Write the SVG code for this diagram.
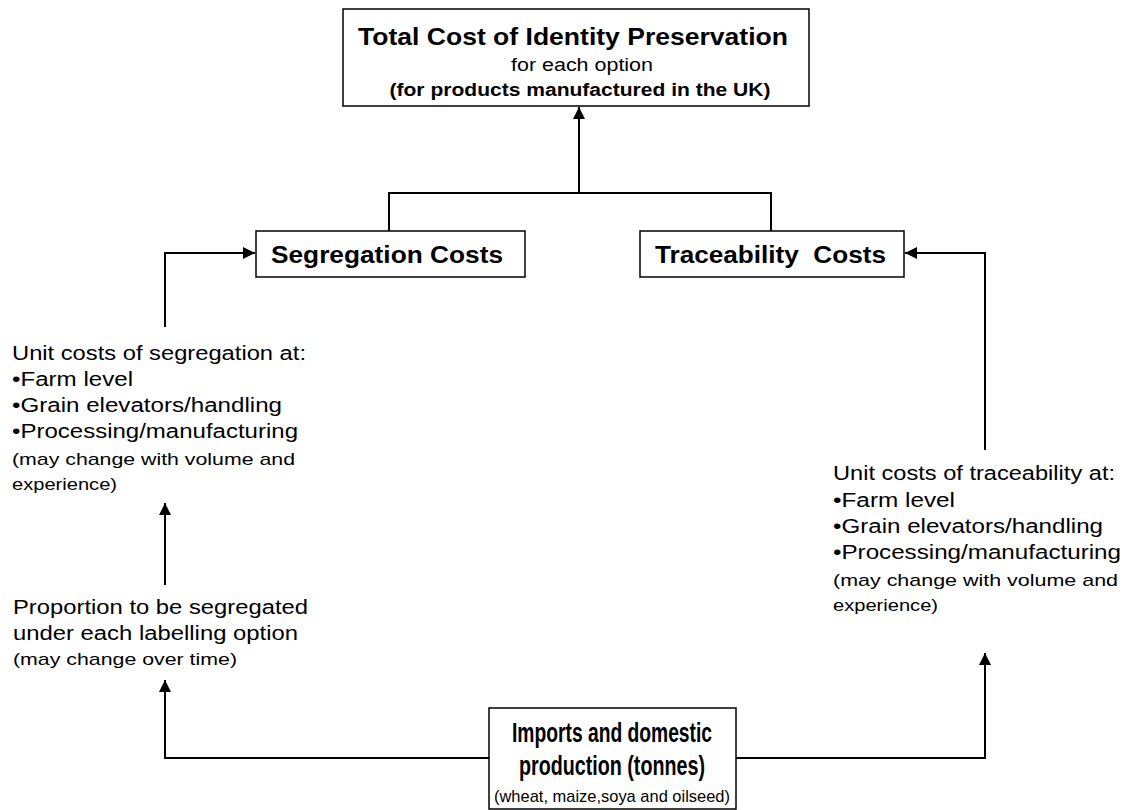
<svg xmlns="http://www.w3.org/2000/svg" width="1124" height="810" viewBox="0 0 1124 810">
  <defs>
    <marker id="arrow" markerUnits="userSpaceOnUse" markerWidth="12" markerHeight="12" viewBox="0 0 12 12" refX="12" refY="6" orient="auto">
      <path d="M0,0 L12,6 L0,12 z" fill="#000"/>
    </marker>
    <style>
      .box{fill:#fff;stroke:#000;stroke-width:1.5}
      .conn{fill:none;stroke:#000;stroke-width:2}
      text{font-family:"Liberation Sans",Arial,sans-serif;fill:#000}
      .b{font-weight:bold}
      .m{text-anchor:middle}
      .t24{font-size:24px}
      .t23{font-size:23px}
      .t20{font-size:20px}
      .t18{font-size:18px}
      .t17{font-size:17px}
      .t27{font-size:27px}
    </style>
  </defs>

  <rect width="1124" height="810" fill="#fff"/>

  <!-- connectors -->
  <g id="connectors">
    <path class="conn" d="M389,231 V193 H771 V231"/>
    <path class="conn" d="M579,193 V107" marker-end="url(#arrow)"/>
    <path class="conn" d="M165,327 V253 H255" marker-end="url(#arrow)"/>
    <path class="conn" d="M985,450 V253 H905" marker-end="url(#arrow)"/>
    <path class="conn" d="M165,585 V503" marker-end="url(#arrow)"/>
    <path class="conn" d="M489,758 H165 V680" marker-end="url(#arrow)"/>
    <path class="conn" d="M736,758 H985 V653" marker-end="url(#arrow)"/>
  </g>

  <!-- total cost -->
  <g id="total-cost">
    <rect class="box" x="343" y="9" width="466" height="97"/>
    <text class="b t24 m" x="573" y="45" textLength="430" lengthAdjust="spacingAndGlyphs">Total Cost of Identity Preservation</text>
    <text class="t18 m" x="582" y="71" textLength="142" lengthAdjust="spacingAndGlyphs">for each option</text>
    <text class="b t18 m" x="580" y="96" textLength="381" lengthAdjust="spacingAndGlyphs">(for products manufactured in the UK)</text>
  </g>

  <!-- segregation costs -->
  <g id="segregation-costs">
    <rect class="box" x="256" y="231" width="269" height="46"/>
    <text class="b t23" x="271" y="263" textLength="232" lengthAdjust="spacingAndGlyphs">Segregation Costs</text>
  </g>

  <!-- traceability costs -->
  <g id="traceability-costs">
    <rect class="box" x="640" y="231" width="264" height="46"/>
    <text class="b t23" x="655" y="263" textLength="231" lengthAdjust="spacingAndGlyphs" xml:space="preserve">Traceability  Costs</text>
  </g>

  <!-- unit costs of segregation -->
  <g id="unit-segregation">
    <text class="t20" x="12" y="360" textLength="294" lengthAdjust="spacingAndGlyphs">Unit costs of segregation at:</text>
    <text class="t20" x="12" y="386" textLength="121" lengthAdjust="spacingAndGlyphs">•Farm level</text>
    <text class="t20" x="12" y="412" textLength="270" lengthAdjust="spacingAndGlyphs">•Grain elevators/handling</text>
    <text class="t20" x="12" y="438" textLength="286" lengthAdjust="spacingAndGlyphs">•Processing/manufacturing</text>
    <text class="t17" x="12" y="465" textLength="283" lengthAdjust="spacingAndGlyphs">(may change with volume and</text>
    <text class="t17" x="12" y="490" textLength="105" lengthAdjust="spacingAndGlyphs">experience)</text>
  </g>

  <!-- proportion segregated -->
  <g id="proportion">
    <text class="t20" x="13" y="614" textLength="295" lengthAdjust="spacingAndGlyphs">Proportion to be segregated</text>
    <text class="t20" x="13" y="640" textLength="285" lengthAdjust="spacingAndGlyphs">under each labelling option</text>
    <text class="t17" x="13" y="665" textLength="224" lengthAdjust="spacingAndGlyphs">(may change over time)</text>
  </g>

  <!-- unit costs of traceability -->
  <g id="unit-traceability">
    <text class="t20" x="833" y="480" textLength="282" lengthAdjust="spacingAndGlyphs">Unit costs of traceability at:</text>
    <text class="t20" x="833" y="507" textLength="122" lengthAdjust="spacingAndGlyphs">•Farm level</text>
    <text class="t20" x="833" y="533" textLength="270" lengthAdjust="spacingAndGlyphs">•Grain elevators/handling</text>
    <text class="t20" x="833" y="559" textLength="288" lengthAdjust="spacingAndGlyphs">•Processing/manufacturing</text>
    <text class="t17" x="833" y="586" textLength="285" lengthAdjust="spacingAndGlyphs">(may change with volume and</text>
    <text class="t17" x="833" y="611" textLength="105" lengthAdjust="spacingAndGlyphs">experience)</text>
  </g>

  <!-- imports and domestic production -->
  <g id="imports">
    <rect class="box" x="489" y="708" width="247" height="101"/>
    <text class="b t27 m" x="612" y="742" textLength="200" lengthAdjust="spacingAndGlyphs">Imports and domestic</text>
    <text class="b t27 m" x="612" y="775" textLength="186" lengthAdjust="spacingAndGlyphs">production (tonnes)</text>
    <text class="t17 m" x="612" y="802" textLength="236" lengthAdjust="spacingAndGlyphs">(wheat, maize,soya and oilseed)</text>
  </g>
</svg>
